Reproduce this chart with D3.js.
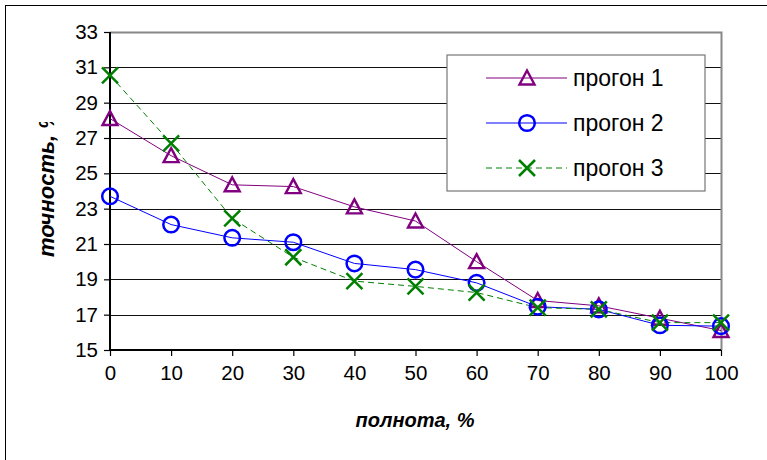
<!DOCTYPE html>
<html>
<head>
<meta charset="utf-8">
<script src="https://cdn.jsdelivr.net/npm/d3@7"></script>
<style>
  body { margin: 0; background: #fff; }
  svg text { font-family: "Liberation Sans", Arial, sans-serif; }
</style>
</head>
<body>
<svg id="chart"></svg>
<script>
// x categories (полнота, %)
var recall = [0, 10, 20, 30, 40, 50, 60, 70, 80, 90, 100];
// precision values per run
var run1 = [28.1, 26.0, 24.35, 24.25, 23.1, 22.3, 20.0, 17.8, 17.5, 16.8, 16.1];
var run2 = [23.7, 22.1, 21.35, 21.1, 19.9, 19.55, 18.8, 17.45, 17.3, 16.4, 16.35];
var run3 = [30.55, 26.7, 22.45, 20.25, 18.9, 18.6, 18.25, 17.4, 17.3, 16.55, 16.55];
var seriesNames = ["прогон 1", "прогон 2", "прогон 3"];
var yTicks = [15, 17, 19, 21, 23, 25, 27, 29, 31, 33];

var svgWidth = 767, svgHeight = 460;
var svg = d3.select('#chart')
    .attr("width", svgWidth)
    .attr("height", svgHeight);

// outer chart border (only left and top show inside the picture)
svg.append("rect")
    .attr("x", 5.5).attr("y", 5.5)
    .attr("width", 800).attr("height", 500)
    .attr("fill", "none")
    .attr("stroke", "#000")
    .attr("stroke-width", 1);

var plotLeft = 110, plotRight = 721, plotTop = 32, plotBottom = 350;

var x = d3.scaleLinear().domain([0, 100]).range([plotLeft, plotRight]);
var y = d3.scaleLinear().domain([15, 33]).range([plotBottom, plotTop]);

// gridlines
svg.append("g")
    .selectAll("line")
    .data(yTicks.slice(1, -1))
    .enter()
    .append("line")
    .attr("x1", plotLeft).attr("x2", plotRight)
    .attr("y1", function(d) { return Math.round(y(d)) + 0.5; })
    .attr("y2", function(d) { return Math.round(y(d)) + 0.5; })
    .attr("stroke", "#111")
    .attr("stroke-width", 1);

// plot area frame top / right (grey)
svg.append("path")
    .attr("d", "M" + plotLeft + "," + (plotTop + 0.5) + "H" + (plotRight + 0.5) + "V" + plotBottom)
    .attr("fill", "none")
    .attr("stroke", "#888")
    .attr("stroke-width", 2);

// y axis
var yAxis = d3.axisLeft(y)
    .tickValues(yTicks)
    .tickSize(6)
    .tickPadding(6);
var gy = svg.append("g")
    .attr("transform", "translate(" + plotLeft + ",0)")
    .call(yAxis);
gy.select(".domain").attr("stroke", "#000").attr("stroke-width", 2)
    .attr("d", "M0," + plotTop + "V" + plotBottom);
gy.selectAll(".tick line").attr("stroke", "#000").attr("stroke-width", 1.2);
gy.selectAll(".tick text")
    .attr("font-size", "20.5px")
    .attr("fill", "#000")
    .attr("font-family", "Liberation Sans, Arial, sans-serif");

// x axis
var xAxis = d3.axisBottom(x)
    .tickValues(recall)
    .tickSize(6)
    .tickPadding(9);
var gx = svg.append("g")
    .attr("transform", "translate(0," + plotBottom + ")")
    .call(xAxis);
gx.select(".domain").attr("stroke", "#000").attr("stroke-width", 2)
    .attr("d", "M" + plotLeft + ",0H" + plotRight);
gx.selectAll(".tick line").attr("stroke", "#000").attr("stroke-width", 1.2);
gx.selectAll(".tick text")
    .attr("font-size", "20.5px")
    .attr("fill", "#000")
    .attr("font-family", "Liberation Sans, Arial, sans-serif");

// axis titles
svg.append("text")
    .attr("x", 415)
    .attr("y", 427)
    .attr("text-anchor", "middle")
    .attr("font-size", "20px")
    .attr("font-weight", "bold")
    .attr("font-style", "italic")
    .text("полнота, %");

// y title is clipped at the top like in the original
svg.append("clipPath").attr("id", "yclip")
    .append("rect").attr("x", 0).attr("y", 122).attr("width", 100).attr("height", 200);
svg.append("g")
    .attr("clip-path", "url(#yclip)")
    .append("text")
    .attr("transform", "translate(54,257) rotate(-90)")
    .attr("text-anchor", "start")
    .attr("font-size", "22px")
    .attr("font-weight", "bold")
    .attr("font-style", "italic")
    .text("точность, %");

// series
var series = [
    { name: seriesNames[0], values: run1, color: "#800080", dash: null, marker: "triangle" },
    { name: seriesNames[1], values: run2, color: "#0000ff", dash: null, marker: "circle" },
    { name: seriesNames[2], values: run3, color: "#008000", dash: "6,4", marker: "cross" }
];

var line = d3.line()
    .x(function(d, i) { return x(recall[i]); })
    .y(function(d) { return y(d); });

function drawMarker(g, type, color) {
    if (type === "triangle") {
        g.append("path")
            .attr("d", "M0,-7.5L7.5,6.5L-7.5,6.5Z")
            .attr("fill", "none").attr("stroke", color).attr("stroke-width", 2.4);
    } else if (type === "circle") {
        g.append("circle")
            .attr("r", 7.8)
            .attr("fill", "none").attr("stroke", color).attr("stroke-width", 2.5);
    } else {
        g.append("path")
            .attr("d", "M-8,-8L8,8M-8,8L8,-8")
            .attr("fill", "none").attr("stroke", color).attr("stroke-width", 2.5);
    }
}

series.forEach(function(s) {
    svg.append("path")
        .datum(s.values)
        .attr("fill", "none")
        .attr("stroke", s.color)
        .attr("stroke-width", 1)
        .attr("stroke-dasharray", s.dash)
        .attr("d", line);
});

series.forEach(function(s) {
    svg.append("g")
        .selectAll("g")
        .data(s.values)
        .enter()
        .append("g")
        .attr("transform", function(d, i) { return "translate(" + x(recall[i]) + "," + y(d) + ")"; })
        .each(function() { drawMarker(d3.select(this), s.marker, s.color); });
});

// legend
var legend = svg.append("g");
legend.append("rect")
    .attr("x", 447).attr("y", 55)
    .attr("width", 258).attr("height", 136)
    .attr("fill", "#fff")
    .attr("stroke", "#777")
    .attr("stroke-width", 1.2);

var legendY = d3.scalePoint().domain(seriesNames).range([78, 168]);

series.forEach(function(s) {
    var ly = legendY(s.name);
    legend.append("line")
        .attr("x1", 486).attr("x2", 567)
        .attr("y1", ly).attr("y2", ly)
        .attr("stroke", s.color)
        .attr("stroke-width", 1)
        .attr("stroke-dasharray", s.dash);
    var m = legend.append("g").attr("transform", "translate(527," + ly + ")");
    drawMarker(m, s.marker, s.color);
    legend.append("text")
        .attr("x", 573)
        .attr("y", ly + 8)
        .attr("font-size", "23px")
        .attr("fill", "#000")
        .text(s.name);
});
</script>
</body>
</html>
